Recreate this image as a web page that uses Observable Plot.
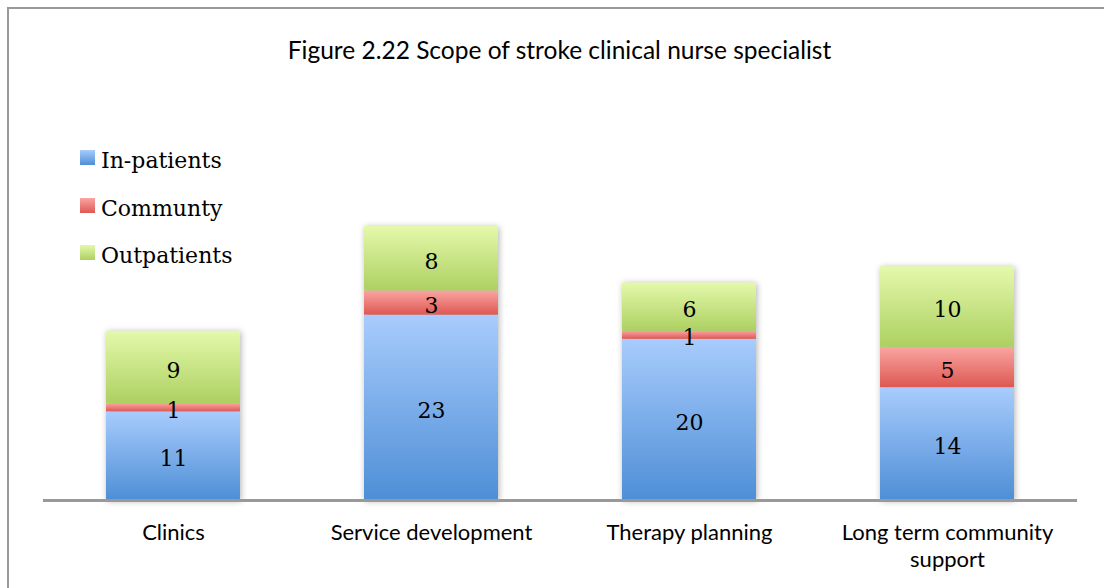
<!DOCTYPE html>
<html><head><meta charset="utf-8">
<script src="https://cdn.jsdelivr.net/npm/d3@7"></script>
<script src="https://cdn.jsdelivr.net/npm/@observablehq/plot@0.6"></script>
<style>
html,body{margin:0;padding:0;background:#fff;}
#wrap{position:relative;width:1104px;height:588px;overflow:hidden;}
#frame{position:absolute;left:7px;top:7px;width:1200px;height:700px;border-left:2px solid #999;border-top:2px solid #999;}
#title{position:absolute;left:0;width:1119px;top:35px;text-align:center;font-family:Lato;font-size:24.5px;color:#000;z-index:2;}
#legend{position:absolute;left:80px;top:137px;font-family:"DejaVu Serif";font-size:22px;color:#000;z-index:2;}
.item{display:flex;align-items:center;height:47.5px;}
.sw{width:15px;height:15px;margin-right:6px;margin-top:-6px;}
#chart{position:absolute;left:0;top:0;}
</style>
</head><body>
<div id="wrap">
  <div id="frame"></div>
  <div id="chart"></div>
  <div id="title">Figure 2.22 Scope of stroke clinical nurse specialist</div>
  <div id="legend"></div>
</div>
<script>
const categories = ["Clinics", "Service development", "Therapy planning", "Long term community support"];
const tickLabels = ["Clinics", "Service development", "Therapy planning", "Long term community\nsupport"];
const series = ["In-patients", "Communty", "Outpatients"];
const inpatients = [11, 23, 20, 14];
const community = [1, 3, 1, 5];
const outpatients = [9, 8, 6, 10];

const topColors = ["#a8ccfd", "#faa5a2", "#e4f9ab"];
const bottomColors = ["#4e8ed6", "#dd5852", "#add061"];

const values = [inpatients, community, outpatients];
const rows = categories.flatMap((c, i) => series.map((s, j) => ({category: c, series: s, value: values[j][i]})));

const defsMark = () => {
  const g = d3.create("svg:defs");
  series.forEach((s, i) => {
    const lg = g.append("linearGradient").attr("id", "grad" + i)
      .attr("x1", 0).attr("y1", 0).attr("x2", 0).attr("y2", 1);
    lg.append("stop").attr("offset", "0%").attr("stop-color", topColors[i]);
    lg.append("stop").attr("offset", "100%").attr("stop-color", bottomColors[i]);
  });
  return g.node();
};

const chart = Plot.plot({
  width: 1104,
  height: 588,
  marginLeft: 43,
  marginRight: 27,
  marginTop: 226,
  marginBottom: 88,
  style: {background: "transparent", fontFamily: "Lato", color: "#000"},
  x: {domain: categories, paddingInner: 0.48, paddingOuter: 0.24, label: null},
  y: {domain: [0, 34], axis: null},
  color: {domain: series, range: series.map((s, i) => `url(#grad${i})`)},
  marks: [
    defsMark,
    Plot.barY(rows, {x: "category", y: "value", fill: "series", order: series}),
    Plot.text(rows, Plot.stackY({x: "category", y: "value", z: "series", order: series, text: "value",
      fontFamily: "DejaVu Serif", fontSize: 22, fill: "#000", dy: 3})),
    Plot.ruleY([0], {stroke: "#999", strokeWidth: 3}),
    Plot.axisX({tickSize: 0, tickPadding: 20, fontSize: 22, fontFamily: "Lato", lineHeight: 1.23,
      tickFormat: (d) => tickLabels[categories.indexOf(d)], label: null})
  ]
});
d3.select(chart).select('g[aria-label="bar"]').style("filter", "drop-shadow(1px 1px 3px rgba(0,0,0,0.3))");
document.getElementById("chart").appendChild(chart);

const legend = document.getElementById("legend");
series.forEach((s, i) => {
  const item = document.createElement("div");
  item.className = "item";
  const sw = document.createElement("div");
  sw.className = "sw";
  sw.style.background = `linear-gradient(${topColors[i]}, ${bottomColors[i]})`;
  const t = document.createElement("span");
  t.textContent = s;
  item.appendChild(sw);
  item.appendChild(t);
  legend.appendChild(item);
});
</script>
</body></html>
